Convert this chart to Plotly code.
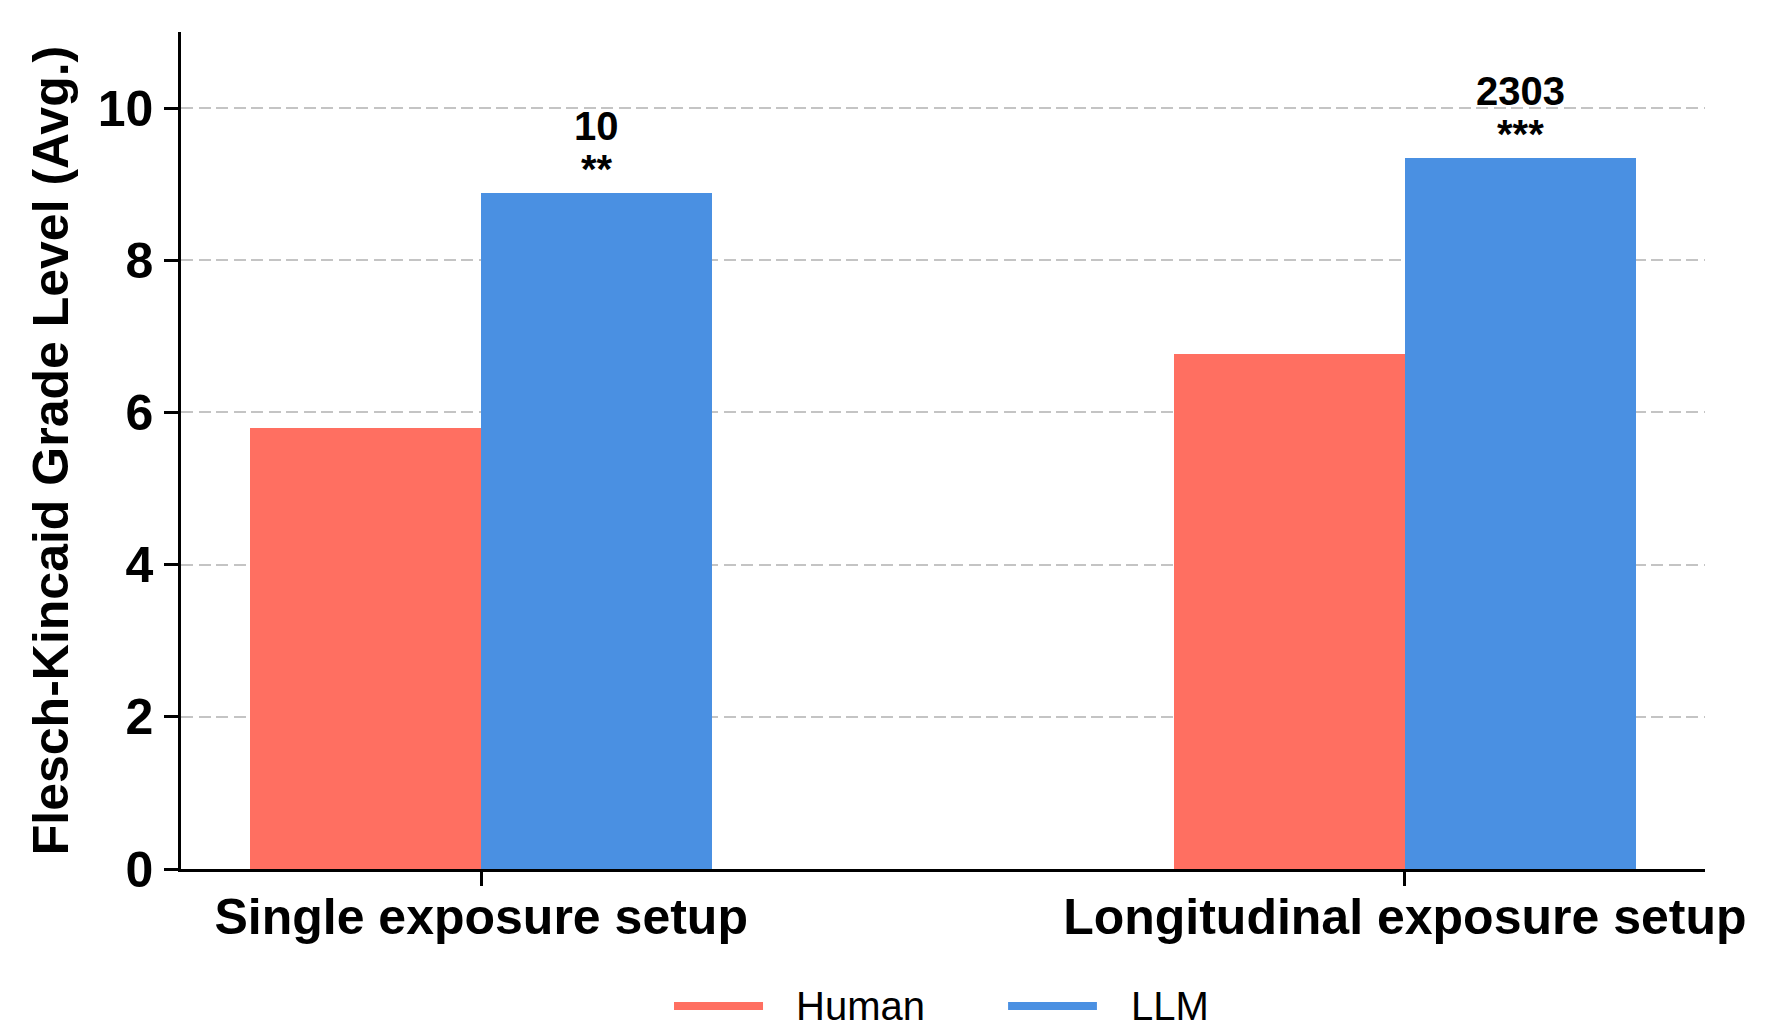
import plotly.graph_objects as go

categories = ["Single exposure setup", "Longitudinal exposure setup"]
series_names = ["Human", "LLM"]
human_values = [5.80, 6.77]
llm_values = [8.89, 9.35]
count_labels = ["10", "2303"]
sig_labels = ["**", "***"]
y_ticks = [0, 2, 4, 6, 8, 10]

colors = {"Human": "#FF6F61", "LLM": "#4A90E2"}
FONT = "Arial, Liberation Sans, Helvetica, sans-serif"
bar_w = 0.25

x_idx = list(range(len(categories)))
fig = go.Figure()
fig.add_trace(go.Bar(x=[i - bar_w / 2 for i in x_idx], y=human_values, width=bar_w,
                     name="Human", marker=dict(color=colors["Human"], line=dict(width=0)),
                     showlegend=False))
fig.add_trace(go.Bar(x=[i + bar_w / 2 for i in x_idx], y=llm_values, width=bar_w,
                     name="LLM", marker=dict(color=colors["LLM"], line=dict(width=0)),
                     showlegend=False))

annotations = []
for i in x_idx:
    annotations.append(dict(x=i + bar_w / 2, y=llm_values[i], xref="x", yref="y",
                            text=count_labels[i], showarrow=False, yanchor="middle",
                            yshift=67, font=dict(family=FONT, size=40, color="black", weight="bold")))
    annotations.append(dict(x=i + bar_w / 2, y=llm_values[i], xref="x", yref="y",
                            text=sig_labels[i], showarrow=False, yanchor="middle",
                            yshift=24, font=dict(family=FONT, size=40, color="black", weight="bold")))

# custom legend (long line handles as in the original)
shapes = []
leg_items = [("Human", 0.3235, 0.3819, 0.4022), ("LLM", 0.5427, 0.6010, 0.6220)]
leg_y = -0.1637
for name, x0, x1, xt in leg_items:
    shapes.append(dict(type="line", xref="paper", yref="paper", x0=x0, x1=x1, y0=leg_y, y1=leg_y,
                       line=dict(color=colors[name], width=8)))
    annotations.append(dict(x=xt, y=leg_y, xref="paper", yref="paper", text=name, showarrow=False,
                            xanchor="left", yanchor="middle",
                            font=dict(family=FONT, size=40, color="black")))

fig.update_layout(
    width=1792, height=1031,
    margin=dict(l=181, r=87, t=32, b=162),
    plot_bgcolor="white", paper_bgcolor="white",
    bargap=0, showlegend=False,
    annotations=annotations, shapes=shapes,
    font=dict(family=FONT, color="black"),
)
fig.update_xaxes(
    range=[-0.325, 1.325], tickvals=x_idx, ticktext=categories,
    tickfont=dict(family=FONT, size=50, color="black", weight="bold"),
    showline=True, linecolor="black", linewidth=2.5, mirror=False,
    ticks="outside", ticklen=14, tickwidth=2.5, tickcolor="black",
    showgrid=False, zeroline=False, ticklabelstandoff=-12,
)
fig.update_yaxes(
    range=[0, 11], tickvals=y_ticks,
    tickfont=dict(family=FONT, size=50, color="black", weight="bold"),
    showline=True, linecolor="black", linewidth=2.5, mirror=False,
    ticks="outside", ticklen=14, tickwidth=2.5, tickcolor="black",
    showgrid=True, gridcolor="#c4c4c4", gridwidth=2, griddash="12px,5.5px",
    zeroline=False, ticklabelstandoff=1,
    title=dict(text="Flesch-Kincaid Grade Level (Avg.)", standoff=14,
               font=dict(family=FONT, size=50, color="black", weight="bold")),
)

fig.write_html(
    "out.html",
    config={"displayModeBar": False},
    post_script="document.body.style.margin='0';document.body.style.overflow='hidden';",
)
